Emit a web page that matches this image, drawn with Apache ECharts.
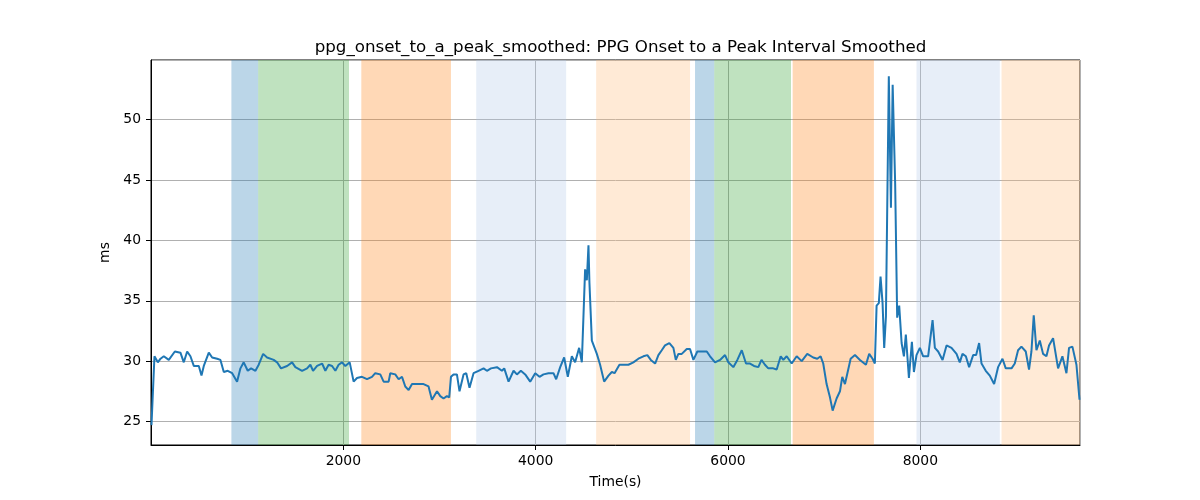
<!DOCTYPE html>
<html>
<head>
<meta charset="utf-8">
<script src="https://cdn.jsdelivr.net/npm/echarts@6/dist/echarts.min.js"></script>
<style>
  html, body { margin: 0; padding: 0; background: #ffffff; }
  #chart { width: 1200px; height: 500px; }
</style>
</head>
<body>
<div id="chart"></div>
<script>
// ---- data ----
const timeValues = [
  5, 36, 71, 99, 133, 185, 248, 306, 341, 376, 410, 445, 497, 525, 549, 601, 636, 688, 722, 757,
  798, 844, 895, 930, 964, 1006, 1041, 1086, 1120, 1166, 1207, 1276, 1311, 1352, 1415, 1467, 1501, 1571, 1623, 1657,
  1685, 1727, 1779, 1813, 1847, 1883, 1917, 1951, 1986, 2021, 2066, 2107, 2142, 2194, 2246, 2298, 2332, 2384, 2419, 2471,
  2488, 2540, 2575, 2610, 2644, 2679, 2714, 2766, 2834, 2886, 2921, 2974, 3008, 3042, 3077, 3101, 3119, 3146, 3181, 3208,
  3250, 3278, 3312, 3354, 3406, 3458, 3493, 3535, 3597, 3649, 3673, 3718, 3770, 3805, 3846, 3891, 3943, 3995, 4040, 4081,
  4133, 4185, 4213, 4255, 4296, 4334, 4376, 4410, 4452, 4480, 4514, 4532, 4549, 4559, 4584, 4636, 4670, 4712, 4757, 4792,
  4820, 4871, 4912, 4964, 5016, 5068, 5120, 5161, 5197, 5242, 5276, 5311, 5345, 5390, 5432, 5457, 5484, 5519, 5571, 5605,
  5640, 5681, 5727, 5779, 5813, 5865, 5917, 5969, 6003, 6055, 6097, 6143, 6187, 6229, 6270, 6315, 6348, 6384, 6419, 6470,
  6506, 6548, 6575, 6610, 6662, 6714, 6766, 6824, 6886, 6928, 6963, 6990, 7025, 7060, 7088, 7129, 7164, 7188, 7216, 7250,
  7275, 7320, 7372, 7434, 7468, 7503, 7527, 7545, 7568, 7586, 7607, 7624, 7642, 7672, 7694, 7712, 7738, 7759, 7780, 7805,
  7829, 7849, 7881, 7912, 7933, 7960, 7995, 8029, 8081, 8127, 8151, 8185, 8231, 8272, 8324, 8376, 8410, 8438, 8473, 8507,
  8549, 8580, 8611, 8636, 8680, 8722, 8767, 8808, 8854, 8888, 8948, 8982, 9016, 9051, 9096, 9130, 9155, 9179, 9207, 9242,
  9276, 9311, 9338, 9380, 9432, 9477, 9519, 9546, 9581, 9623, 9655
];
const msValues = [
  24.7, 30.4, 29.9, 30.2, 30.4, 30.1, 30.8, 30.7, 29.9, 30.8, 30.4, 29.6, 29.6, 28.8, 29.6, 30.7, 30.3, 30.2, 30.1, 29.1,
  29.2, 29.0, 28.3, 29.4, 29.9, 29.2, 29.4, 29.2, 29.7, 30.6, 30.3, 30.1, 29.9, 29.4, 29.6, 29.9, 29.5, 29.2, 29.4, 29.7,
  29.2, 29.6, 29.8, 29.2, 29.7, 29.6, 29.2, 29.7, 29.9, 29.6, 29.9, 28.3, 28.6, 28.7, 28.5, 28.7, 29.0, 28.9, 28.3, 28.3,
  29.0, 28.9, 28.5, 28.7, 27.9, 27.6, 28.1, 28.1, 28.1, 27.9, 26.8, 27.5, 27.1, 26.9, 27.1, 27.0, 28.7, 28.9, 28.9, 27.5,
  28.9, 29.0, 27.8, 29.0, 29.2, 29.4, 29.2, 29.4, 29.5, 29.2, 29.4, 28.3, 29.2, 28.9, 29.2, 28.9, 28.3, 29.0, 28.7, 28.9,
  29.0, 29.0, 28.5, 29.5, 30.3, 28.7, 30.4, 29.9, 31.1, 29.9, 37.6, 36.7, 39.6, 36.5, 31.7, 30.6, 29.7, 28.3, 28.8, 29.1,
  29.0, 29.7, 29.7, 29.7, 29.9, 30.2, 30.4, 30.5, 30.1, 29.8, 30.5, 30.9, 31.3, 31.5, 31.1, 30.1, 30.6, 30.6, 31.0, 31.0,
  30.1, 30.8, 30.8, 30.8, 30.4, 29.9, 30.1, 30.5, 29.9, 29.5, 30.1, 30.9, 29.8, 29.8, 29.6, 29.5, 30.1, 29.7, 29.4, 29.4,
  29.3, 30.4, 30.1, 30.4, 29.8, 30.4, 30.0, 30.6, 30.3, 30.2, 30.4, 29.8, 28.1, 27.0, 25.9, 26.9, 27.5, 28.7, 28.1, 29.3,
  30.2, 30.5, 30.1, 29.7, 30.6, 30.2, 29.8, 34.6, 34.8, 37.0, 34.8, 31.1, 33.7, 53.6, 42.7, 52.9, 44.7, 33.6, 34.6, 31.5,
  30.4, 32.2, 28.6, 31.6, 29.1, 30.5, 31.1, 30.4, 30.4, 33.4, 31.1, 30.8, 30.1, 31.3, 31.1, 30.6, 29.9, 30.6, 30.4, 29.5,
  30.5, 30.5, 31.5, 29.8, 29.2, 28.8, 28.1, 29.5, 30.2, 29.4, 29.4, 29.8, 30.9, 31.2, 30.8, 29.3, 30.8, 33.8, 30.9, 31.7,
  30.6, 30.4, 31.3, 31.9, 29.4, 30.4, 29.0, 31.1, 31.2, 29.7, 26.8
];
const bandStarts = [836, 1114, 2187, 3382, 4629, 5657, 5857, 6672, 7960, 8844];
const bandEnds   = [1114, 2059, 3119, 4317, 5605, 5857, 6655, 7517, 8826, 9660];
const bandKinds  = [0, 1, 2, 3, 4, 0, 1, 2, 3, 4];
const xMin = 0, xMax = 9660;
const yMin = 23.05, yMax = 54.95;
const titleText = 'ppg_onset_to_a_peak_smoothed: PPG Onset to a Peak Interval Smoothed';
const xName = 'Time(s)';
const yName = 'ms';

// ---- styles ----
const bandColors = [
  'rgba(31,119,180,0.3)',
  'rgba(44,160,44,0.3)',
  'rgba(255,127,14,0.3)',
  'rgba(174,199,232,0.3)',
  'rgba(255,187,120,0.3)'
];

const seriesData = timeValues.map((t, i) => [t, msValues[i]]);
const areas = bandStarts.map((s, i) => [
  { xAxis: s, itemStyle: { color: bandColors[bandKinds[i]] } },
  { xAxis: bandEnds[i] }
]);

const font = 'DejaVu Sans';
const plain = v => String(Math.round(v * 1000) / 1000);
const chart = echarts.init(document.getElementById('chart'), null, { renderer: 'canvas' });
chart.setOption({
  animation: false,
  backgroundColor: '#ffffff',
  title: {
    text: titleText,
    left: 615.5,
    top: 34,
    textAlign: 'center',
    textStyle: { fontFamily: font, fontSize: 16.7, fontWeight: 'normal', color: '#000' }
  },
  grid: {
    left: 151, right: 120, top: 60, bottom: 55,
    show: true, borderColor: '#000', borderWidth: 1, backgroundColor: 'transparent'
  },
  xAxis: {
    type: 'value',
    min: xMin, max: xMax,
    name: xName,
    nameLocation: 'middle',
    nameGap: 30,
    nameTextStyle: { fontFamily: font, fontSize: 13.9, color: '#000' },
    axisLine: { show: true, onZero: false, lineStyle: { color: '#000', width: 1 } },
    axisTick: { show: true, length: 5, lineStyle: { color: '#000', width: 1 } },
    axisLabel: { showMinLabel: false, showMaxLabel: false, margin: 9, fontFamily: font, fontSize: 13.9, color: '#000', formatter: plain },
    splitLine: { show: true, lineStyle: { color: '#b0b0b0', width: 1 } }
  },
  yAxis: {
    type: 'value',
    min: yMin, max: yMax,
    name: yName,
    nameLocation: 'middle',
    nameGap: 34,
    nameRotate: 90,
    nameTextStyle: { fontFamily: font, fontSize: 13.9, color: '#000' },
    axisLine: { show: true, onZero: false, lineStyle: { color: '#000', width: 1 } },
    axisTick: { show: true, length: 5, lineStyle: { color: '#000', width: 1 } },
    axisLabel: { showMinLabel: false, showMaxLabel: false, margin: 10, fontFamily: font, fontSize: 13.9, color: '#000', formatter: plain },
    splitLine: { show: true, lineStyle: { color: '#b0b0b0', width: 1 } }
  },
  series: [{
    type: 'line',
    data: seriesData,
    showSymbol: false,
    symbol: 'none',
    lineStyle: { color: '#1f77b4', width: 2 },
    itemStyle: { color: '#1f77b4' },
    z: 3,
    markArea: { silent: true, data: areas }
  }]
});
</script>
</body>
</html>
